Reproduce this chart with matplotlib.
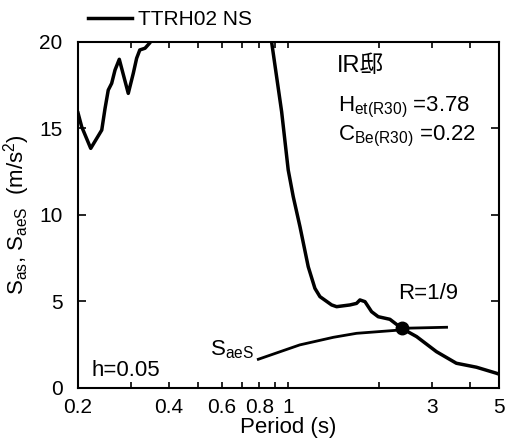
import numpy as np
import matplotlib
matplotlib.use('Agg')
import matplotlib.pyplot as plt
from matplotlib.ticker import FixedLocator, FixedFormatter, NullFormatter

# spectrum of the record (S_as)
period_as = [0.200, 0.2057, 0.2204, 0.2398, 0.2459, 0.2520, 0.2587, 0.2654, 0.2742,
             0.2937, 0.3052, 0.3131, 0.3208, 0.3339, 0.3468, 0.36,
             0.87, 0.879, 0.949, 0.998, 1.037, 1.092, 1.163, 1.224, 1.272, 1.391,
             1.445, 1.600, 1.683, 1.727, 1.795, 1.888, 1.986, 2.172, 2.376, 2.664,
             3.10, 3.61, 4.21, 4.91, 5.0]
sas = [15.9, 15.1, 13.85, 14.91, 16.16, 17.22, 17.61, 18.38, 19.0,
       17.03, 18.19, 19.06, 19.54, 19.64, 19.96, 21.0,
       21.0, 20.0, 15.97, 12.6, 11.06, 9.32, 7.01, 5.76, 5.28, 4.80,
       4.70, 4.80, 4.89, 5.09, 4.99, 4.41, 4.12, 3.97, 3.45, 2.97,
       2.10, 1.43, 1.20, 0.85, 0.80]

# equivalent spectrum S_aeS
period_aes = [0.794, 1.09, 1.41, 1.683, 2.345, 2.376, 3.35]
saes = [1.66, 2.49, 2.93, 3.16, 3.35, 3.45, 3.51]

# crossing point R=1/9
cross_t = 2.376
cross_s = 3.45

xtick_vals = [0.2, 0.4, 0.6, 0.8, 1, 3, 5]
xtick_labels = ['0.2', '0.4', '0.6', '0.8', '1', '3', '5']
xminor_vals = [0.3, 0.5, 0.7, 0.9, 2, 4]
ytick_vals = [0, 5, 10, 15, 20]

plt.rcParams['font.family'] = ['Liberation Sans', 'Noto Sans CJK JP', 'DejaVu Sans']
plt.rcParams['mathtext.fontset'] = 'custom'
plt.rcParams['mathtext.rm'] = 'Liberation Sans'
plt.rcParams['mathtext.it'] = 'Liberation Sans:italic'

fig = plt.figure(figsize=(5.05, 4.43), dpi=100)
ax = fig.add_axes([0.1545, 0.1242, 0.8335, 0.781])

ax.plot(period_as, sas, color='k', linewidth=2.5, label='TTRH02 NS', solid_joinstyle='round')
ax.plot(period_aes, saes, color='k', linewidth=2.0)
ax.plot([cross_t], [cross_s], 'o', color='k', markersize=9)

ax.set_xscale('log')
ax.set_xlim(0.2, 5)
ax.set_ylim(0, 20)

ax.xaxis.set_major_locator(FixedLocator(xtick_vals))
ax.xaxis.set_major_formatter(FixedFormatter(xtick_labels))
ax.xaxis.set_minor_locator(FixedLocator(xminor_vals))
ax.xaxis.set_minor_formatter(NullFormatter())
ax.set_yticks(ytick_vals)

ax.tick_params(which='both', direction='in', top=True, right=True, width=1.2, labelsize=15)
ax.tick_params(axis='x', which='major', length=4, pad=7)
ax.tick_params(axis='x', which='minor', length=4)
ax.tick_params(axis='y', which='major', length=6, pad=11)
# longer tick at 1 s
for t in ax.xaxis.get_major_ticks():
    if abs(t.get_loc() - 1) < 1e-9:
        t.tick1line.set_markersize(7)
        t.tick2line.set_markersize(7)

for spine in ['top', 'bottom', 'left', 'right']:
    ax.spines[spine].set_linewidth(1.5)

ax.set_xlabel('Period (s)', fontsize=16)
ax.xaxis.set_label_coords(0.5, -0.085)
ax.set_ylabel(r'$\mathrm{S_{as}}$, $\mathrm{S_{aeS}}$  (m/s$^{\mathrm{2}}$)', fontsize=16)
ax.yaxis.set_label_coords(-0.11, 0.5)

ax.text(0.615, 0.931, 'IR邸', transform=ax.transAxes, fontsize=17, va='center')
ax.text(0.617, 0.798, r'$\mathrm{H_{et(R30)}}$ =3.78', transform=ax.transAxes, fontsize=16, va='baseline')
ax.text(0.617, 0.717, r'$\mathrm{C_{Be(R30)}}$ =0.22', transform=ax.transAxes, fontsize=16, va='baseline')
ax.text(0.760, 0.272, 'R=1/9', transform=ax.transAxes, fontsize=16, va='center')
ax.text(0.3135, 0.095, r'$\mathrm{S_{aeS}}$', transform=ax.transAxes, fontsize=16, va='baseline')
ax.text(0.033, 0.035, 'h=0.05', transform=ax.transAxes, fontsize=16, va='baseline')

ax.legend(loc='center left', bbox_to_anchor=(0.024, 1.0636), frameon=False, fontsize=15,
          handlelength=2.1, handletextpad=0.3, borderpad=0, borderaxespad=0)

fig.savefig('out.png', dpi=100)
